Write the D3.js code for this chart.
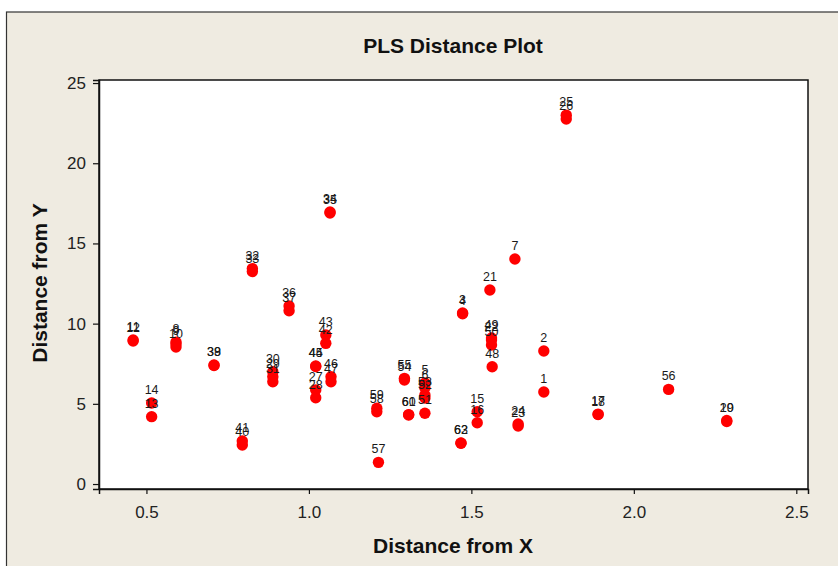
<!DOCTYPE html>
<html><head><meta charset="utf-8">
<script src="https://cdn.jsdelivr.net/npm/d3@7"></script>
<style>
html,body{margin:0;padding:0;background:#fff;}
svg{display:block;}
</style></head>
<body>
<script>
const ids = [1,2,3,4,5,6,7,8,9,10,11,12,13,14,15,16,17,18,19,20,21,22,23,24,25,26,27,28,29,30,31,32,33,34,35,36,37,38,39,40,41,42,43,44,45,46,47,48,49,50,51,52,53,54,55,56,57,58,59,60,61,62,63];
const distX = [1.723,1.723,1.473,1.473,1.357,1.357,1.634,0.591,0.591,0.591,0.459,0.459,0.516,0.516,1.518,1.518,1.890,1.890,2.286,2.286,1.557,1.562,1.644,1.644,1.792,1.792,1.021,1.021,0.889,0.889,0.889,0.826,0.826,1.065,1.065,0.939,0.939,0.708,0.708,0.795,0.795,1.052,1.052,1.021,1.021,1.068,1.068,1.564,1.562,1.562,1.357,1.357,1.357,1.294,1.294,2.107,1.214,1.209,1.209,1.307,1.307,1.468,1.468];
const distY = [5.74,8.29,10.66,10.62,6.30,6.00,14.03,8.85,8.73,8.54,8.98,8.92,4.20,5.05,4.51,3.82,4.36,4.33,3.96,3.90,12.10,8.98,3.62,3.74,23.00,22.76,5.86,5.38,6.69,7.00,6.38,13.43,13.25,16.96,16.90,11.10,10.80,7.42,7.39,2.43,2.68,8.77,9.29,7.36,7.33,6.69,6.38,7.31,9.10,8.67,4.41,5.36,5.55,6.48,6.59,5.90,1.35,4.51,4.72,4.30,4.33,2.54,2.56];
const xTicks = [0.5,1.0,1.5,2.0,2.5];
const yTicks = [0,5,10,15,20,25];
const title = "PLS Distance Plot";
const xLabel = "Distance from X";
const yLabel = "Distance from Y";

const W = 838, H = 566;
const L = 99, R = 808, T = 80, B = 489;
const font = "Arial, 'Liberation Sans', Helvetica, sans-serif";

const svg = d3.select("body").append("svg").attr("width", W).attr("height", H);
svg.append("rect").attr("x",0).attr("y",0).attr("width",W).attr("height",H).attr("fill","#ffffff");
svg.append("rect").attr("x",6.5).attr("y",12).attr("width",W+10).attr("height",H+10)
  .attr("fill","#efebe1").attr("stroke","#333").attr("stroke-width",1.2);

const x = d3.scaleLinear().domain([0.354, 2.536]).range([L, R]);
const y = d3.scaleLinear().domain([-0.31, 25.19]).range([B, T]);

svg.append("rect").attr("x",L).attr("y",T).attr("width",R-L).attr("height",B-T)
  .attr("fill","#fff").attr("stroke","#111").attr("stroke-width",1.5);

const xAxis = svg.append("g").attr("transform",`translate(0,${B})`)
  .call(d3.axisBottom(x).tickValues(xTicks).tickFormat(d3.format(".1f")).tickSize(5).tickPadding(12));
const yAxis = svg.append("g").attr("transform",`translate(${L},0)`)
  .call(d3.axisLeft(y).tickValues(yTicks).tickFormat(d3.format("d")).tickSize(6).tickPadding(7));
[xAxis,yAxis].forEach(a=>{
  a.select(".domain").attr("stroke","#111").attr("stroke-width",1.5);
  a.selectAll(".tick line").attr("stroke","#111").attr("stroke-width",1.2);
  a.selectAll(".tick text").attr("font-family",font).attr("font-size",17).attr("fill","#222");
});

const pts = ids.map((id,i)=>({id, x:distX[i], y:distY[i]}));
svg.append("g").selectAll("circle").data(pts).join("circle")
  .attr("cx",d=>x(d.x)).attr("cy",d=>y(d.y)).attr("r",5.7).attr("fill","#ff0000");
svg.append("g").selectAll("text").data(pts).join("text")
  .attr("x",d=>x(d.x)).attr("y",d=>y(d.y)-9)
  .attr("text-anchor","middle").attr("font-family",font).attr("font-size",12.5).attr("fill","#1a1a1a")
  .text(d=>d.id);

svg.append("text").attr("x",453).attr("y",53).attr("text-anchor","middle")
  .attr("font-family",font).attr("font-size",21).attr("font-weight","bold").attr("fill","#111").text(title);
svg.append("text").attr("x",453).attr("y",553).attr("text-anchor","middle")
  .attr("font-family",font).attr("font-size",21).attr("font-weight","bold").attr("fill","#111").text(xLabel);
svg.append("text").attr("transform","translate(47,283) rotate(-90)").attr("text-anchor","middle")
  .attr("font-family",font).attr("font-size",21).attr("font-weight","bold").attr("fill","#111").text(yLabel);
</script>
</body></html>
